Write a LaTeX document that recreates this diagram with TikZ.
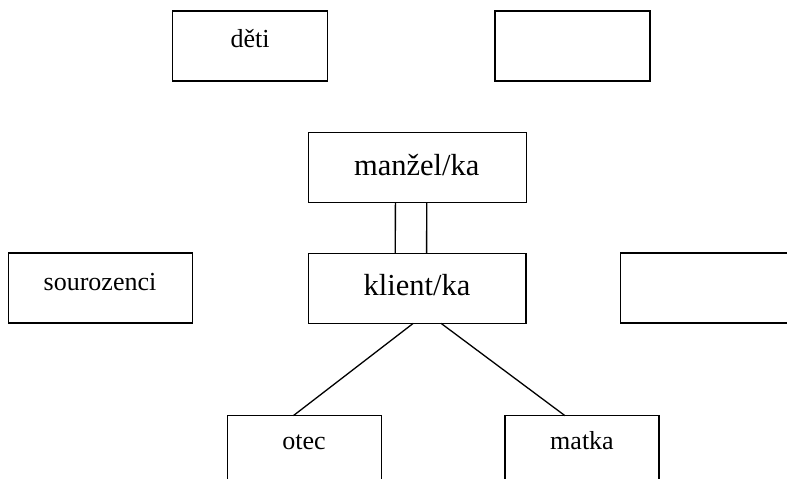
\documentclass[tikz,border=0pt]{standalone}
\usepackage{fontspec}
\setmainfont{Liberation Serif}
\usetikzlibrary{calc}
\begin{document}
\begin{tikzpicture}[x=1pt,y=-1pt,
  box/.style={draw, line width=1.3pt, inner sep=0pt, outer sep=0pt, minimum height=70pt},
  small/.style={inner sep=0pt, anchor=base, font=\fontsize{26}{30}\selectfont},
  big/.style={inner sep=0pt, anchor=base, font=\fontsize{30.5}{35}\selectfont},
  link/.style={line width=1.3pt}]
  \useasboundingbox (0,0) rectangle (787,479);
  \clip (0,0) rectangle (787,479);
  \fill[white] (0,0) rectangle (787,479);

  % boxes
  \node[box, minimum width=154.6pt] (deti)    at (250,46) {};
  \node[box, minimum width=155pt]   (topr)    at (572.5,46) {};
  \node[box, minimum width=218pt]   (manzel)  at (417.4,167.7) {};
  \node[box, minimum width=217.5pt] (klient)  at (417.3,288.3) {};
  \node[box, minimum width=184pt]   (souroz)  at (100.3,288) {};
  \node[box, minimum width=184pt]   (midr)    at (712.8,288) {};
  \node[box, minimum width=154.4pt] (otec)    at (304.5,450.7) {};
  \node[box, minimum width=154pt]   (matka)   at (582,450.7) {};

  % labels
  \node[small] (tdeti)   at (250,47)    {děti};
  \node[big]   (tmanzel) at (416.7,175) {manžel/ka};
  \node[big]   (tklient) at (417,295)   {klient/ka};
  \node[small] (tsouroz) at (100,290.7) {sourozenci};
  \node[small] (totec)   at (304,449)   {otec};
  \node[small] (tmatka)  at (582,449)   {matka};

  % double link between partners
  \draw[link] ($(manzel.south)+(-22,0)$) -- ($(klient.north)+(-22,0)$);
  \draw[link] ($(manzel.south)+(9.3,0)$) -- ($(klient.north)+(9.3,0)$);

  % links to parents
  \draw[link] ($(klient.south)+(-4,0)$) -- ($(otec.north)+(-11.2,0)$);
  \draw[link] ($(klient.south)+(23.7,0)$) -- ($(matka.north)+(-17,0)$);
\end{tikzpicture}
\end{document}
